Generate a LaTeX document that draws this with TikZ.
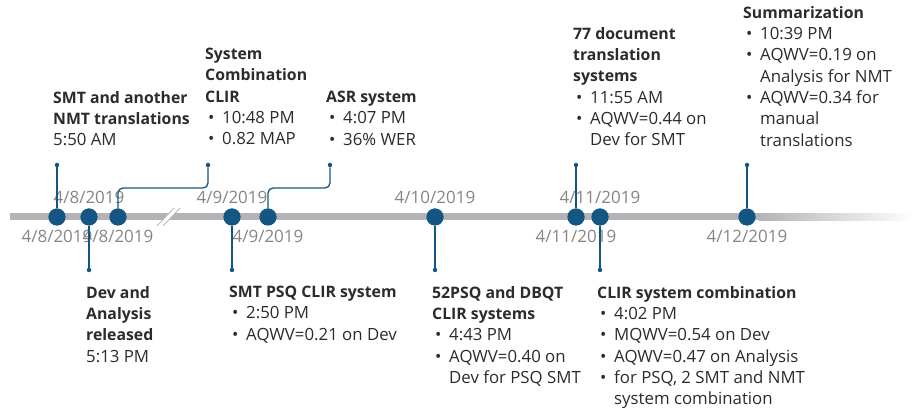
\documentclass[tikz,border=0pt]{standalone}
\usepackage{fontspec}
\setmainfont{Open Sans}
\usetikzlibrary{positioning}
\definecolor{tlblue}{HTML}{135684}
\definecolor{tlgray}{HTML}{B4B4B8}
\definecolor{dategray}{HTML}{858585}
\definecolor{bodyink}{HTML}{2B2B2B}
\newcommand{\bul}{\makebox[17pt][l]{\hspace{3pt}•}}
\newcommand{\hng}{\hspace*{17pt}}
\newcommand{\ttl}[1]{{\fontsize{15.8}{21.3}\selectfont\bfseries #1}}

\begin{document}
\begin{tikzpicture}[x=1pt, y=-1pt, font=\fontsize{16.8}{21.3}\selectfont,
  evt/.style={circle, fill=tlblue, inner sep=0pt, minimum size=17pt},
  tipdot/.style={circle, fill=tlblue, inner sep=0pt, minimum size=4.5pt},
  link/.style={tlblue, line width=1.3pt, rounded corners=5pt},
  datelbl/.style={text=dategray, inner sep=0pt, anchor=base, font=\fontsize{17}{18}\selectfont},
  evtext/.style={anchor=north west, align=left, inner sep=0pt, text=bodyink}]
  \useasboundingbox (0,0) rectangle (914,411);
  % === Time axis ===
  \fill[tlgray] (10,213.5) rectangle (760,220.5);
  \shade[left color=tlgray, right color=white] (759,213.5) rectangle (914,220.5);
  % === Break mark ===
  \fill[white] (157,226) -- (174,208) -- (180,208) -- (163,226) -- cycle;
  \draw[tlgray, line width=0.8pt] (157,226) -- (174,208);
  \draw[tlgray, line width=0.8pt] (163,226) -- (180,208);
  % === Connector ends ===
  \node[tipdot] (u1) at (57,165) {};
  \node[tipdot] (l2) at (89,270) {};
  \node[tipdot] (u3) at (208,165) {};
  \node[tipdot] (l4) at (232,270) {};
  \node[tipdot] (u5) at (330,165) {};
  \node[tipdot] (l6) at (435,270) {};
  \node[tipdot] (u7) at (576,165) {};
  \node[tipdot] (l8) at (600,270) {};
  \node[tipdot] (u9) at (747,165) {};
  \coordinate (k3) at (208,188);
  \coordinate (k5) at (330,188);
  % === Events and dates ===
  \foreach \px/\dd/\dy/\nm in {57/8/243/e1, 89/8/204/e2, 118/8/243/e3,
      232/9/204/e4, 268/9/243/e5, 435/10/204/e6, 576/11/243/e7,
      600/11/204/e8, 747/12/243/e9}
  {
    \node[evt] (\nm) at (\px,217) {};
    \node[datelbl] (d\nm) at (\px,\dy) {4/\dd/2019};
  }
  % === Connectors ===
  \draw[link] (e1) -- (u1);
  \draw[link] (e2) -- (l2);
  \draw[link] (e3) |- (k3) -- (u3);
  \draw[link] (e4) -- (l4);
  \draw[link] (e5) |- (k5) -- (u5);
  \draw[link] (e6) -- (l6);
  \draw[link] (e7) -- (u7);
  \draw[link] (e8) -- (l8);
  \draw[link] (e9) -- (u9);
  \foreach \nm in {e1,e2,e3,e4,e5,e6,e7,e8,e9}
    \node[evt] at (\nm) {};
  % === Texts above ===
  \node[evtext] (t1) at (53,91) {\ttl{SMT and another}\\\ttl{NMT translations}\\5:50 AM};
  \node[evtext] (t3) at (205,48) {\ttl{System}\\\ttl{Combination}\\\ttl{CLIR}\\\bul 10:48 PM\\\bul 0.82 MAP};
  \node[evtext] (t5) at (326,91) {\ttl{ASR system}\\\bul 4:07 PM\\\bul 36\% WER};
  \node[evtext] (t7) at (573,27) {\ttl{77 document}\\\ttl{translation}\\\ttl{systems}\\\bul 11:55 AM\\\bul AQWV=0.44 on\\\hng Dev for SMT};
  \node[evtext] (t9) at (743,6) {\ttl{Summarization}\\\bul 10:39 PM\\\bul AQWV=0.19 on\\\hng Analysis for NMT\\\bul AQWV=0.34 for\\\hng manual\\\hng translations};
  % === Texts below ===
  \node[evtext] (t2) at (86,286) {\ttl{Dev and}\\\ttl{Analysis}\\\ttl{released}\\5:13 PM};
  \node[evtext] (t4) at (229,286) {\ttl{SMT PSQ CLIR system}\\\bul 2:50 PM\\\bul AQWV=0.21 on Dev};
  \node[evtext] (t6) at (432,286) {\ttl{52PSQ and DBQT}\\\ttl{CLIR systems}\\\bul 4:43 PM\\\bul AQWV=0.40 on\\\hng Dev for PSQ SMT};
  \node[evtext] (t8) at (597,286) {\ttl{CLIR system combination}\\\bul 4:02 PM\\\bul MQWV=0.54 on Dev\\\bul AQWV=0.47 on Analysis\\\bul for PSQ, 2 SMT and NMT\\\hng system combination};
\end{tikzpicture}
\end{document}
